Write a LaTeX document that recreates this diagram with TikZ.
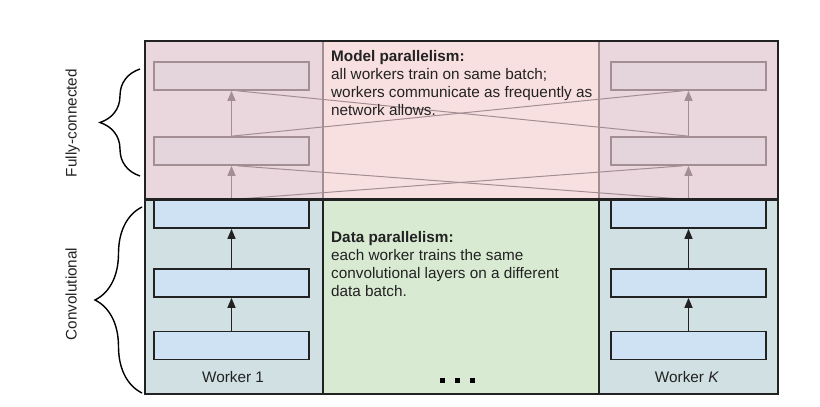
\documentclass[tikz,border=0pt]{standalone}
\usepackage{fontspec}
\setmainfont{Liberation Sans}
\usetikzlibrary{arrows.meta,calc,decorations.pathreplacing}
\definecolor{topcol}{HTML}{EAD6DD}
\definecolor{topmid}{HTML}{F9E0E0}
\definecolor{fcfill}{HTML}{E4D5DC}
\definecolor{fcdraw}{HTML}{A38E94}
\definecolor{teal}{HTML}{D0E0E3}
\definecolor{bluebox}{HTML}{CFE2F3}
\definecolor{greenmid}{HTML}{D9EAD3}
\definecolor{dark}{HTML}{222222}
\tikzset{
  convbox/.style={draw=dark, line width=1.7pt, fill=bluebox, minimum width=155pt, minimum height=28pt, inner sep=0pt},
  fcbox/.style={draw=fcdraw, line width=1.7pt, fill=fcfill, minimum width=155pt, minimum height=28pt, inner sep=0pt},
  convarr/.style={draw=dark, line width=1.4pt, -{Triangle[length=10pt,width=8pt]}},
  fcarr/.style={draw=fcdraw, line width=1.4pt, -{Triangle[length=10pt,width=8pt]}},
  crossline/.style={draw=fcdraw, line width=1pt},
  para/.style={anchor=north west, inner sep=0pt, align=left, font=\fontsize{15.3}{18}\selectfont, text=dark},
  sidelabel/.style={rotate=90, anchor=base, inner sep=0pt, font=\fontsize{15.3}{18}\selectfont, text=dark},
  bracestyle/.style={draw=black, line width=1.4pt, decorate},
  dotsq/.style={fill=black, minimum size=5pt, inner sep=0pt}
}
\begin{document}
\begin{tikzpicture}[x=1pt,y=-1pt]
\useasboundingbox (0,0) rectangle (820,407);
% background regions
\fill[topcol] (145,41) rectangle (323,199.5);
\fill[topmid] (323,41) rectangle (599,199.5);
\fill[topcol] (599,41) rectangle (778,199.5);
\fill[teal] (145,199.5) rectangle (323,394);
\fill[greenmid] (323,199.5) rectangle (599,394);
\fill[teal] (599,199.5) rectangle (778,394);
% column dividers
\draw[fcdraw, line width=1.3pt] (323,41) -- (323,199.5) (599,41) -- (599,199.5);
\draw[dark, line width=1.7pt] (323,199.5) -- (323,394) (599,199.5) -- (599,394);
% boxes
\node[fcbox] (l1) at (231.5,76) {};
\node[fcbox] (l2) at (231.5,151) {};
\node[convbox] (l3) at (231.5,214) {};
\node[convbox] (l4) at (231.5,283) {};
\node[convbox] (l5) at (231.5,345.5) {};
\node[fcbox] (r1) at (688.5,76) {};
\node[fcbox] (r2) at (688.5,151) {};
\node[convbox] (r3) at (688.5,214) {};
\node[convbox] (r4) at (688.5,283) {};
\node[convbox] (r5) at (688.5,345.5) {};
\coordinate (lb) at (231.5,199.5);
\coordinate (rb) at (688.5,199.5);
% cross connections
\draw[crossline] (lb) -- ($(r2.south)+(-6,0)$);
\draw[crossline] (rb) -- ($(l2.south)+(6,0)$);
\draw[crossline] (l2.north) -- ($(r1.south)+(-6,0)$);
\draw[crossline] (r2.north) -- ($(l1.south)+(6,0)$);
% arrows
\draw[convarr] (l5) -- (l4);
\draw[convarr] (l4) -- (l3);
\draw[convarr] (r5) -- (r4);
\draw[convarr] (r4) -- (r3);
\draw[fcarr] (lb) -- (l2);
\draw[fcarr] (l2) -- (l1);
\draw[fcarr] (rb) -- (r2);
\draw[fcarr] (r2) -- (r1);
% frame and divider
\draw[dark, line width=2.2pt] (145,199.5) -- (778,199.5);
\draw[dark, line width=2.2pt] (145,41) rectangle (778,394);
% texts
\node[para] (mp) at (331,50.5) {\textbf{Model parallelism:}\\all workers train on same batch;\\workers communicate as frequently as\\network allows.};
\node[para] (dp) at (331,231.5) {\textbf{Data parallelism:}\\each worker trains the same\\convolutional layers on a different\\data batch.};
\node[anchor=base, inner sep=0pt, font=\fontsize{15.3}{18}\selectfont, text=dark] (w1) at (233,382.5) {Worker 1};
\node[anchor=base, inner sep=0pt, font=\fontsize{15.3}{18}\selectfont, text=dark] (wk) at (687,382.5) {Worker \textit{K}};
\node[dotsq] (d1) at (442.5,380.5) {};
\node[dotsq] (d2) at (457.5,380.5) {};
\node[dotsq] (d3) at (472.5,380.5) {};
% braces and side labels
\draw[bracestyle, decoration={brace, amplitude=40pt}] (140,176) -- (140,69);
\draw[bracestyle, decoration={brace, amplitude=47pt}] (142,393) -- (142,207);
\node[sidelabel] (fcl) at (76.5,123) {Fully-connected};
\node[sidelabel] (cvl) at (76.5,294) {Convolutional};
\end{tikzpicture}
\end{document}
